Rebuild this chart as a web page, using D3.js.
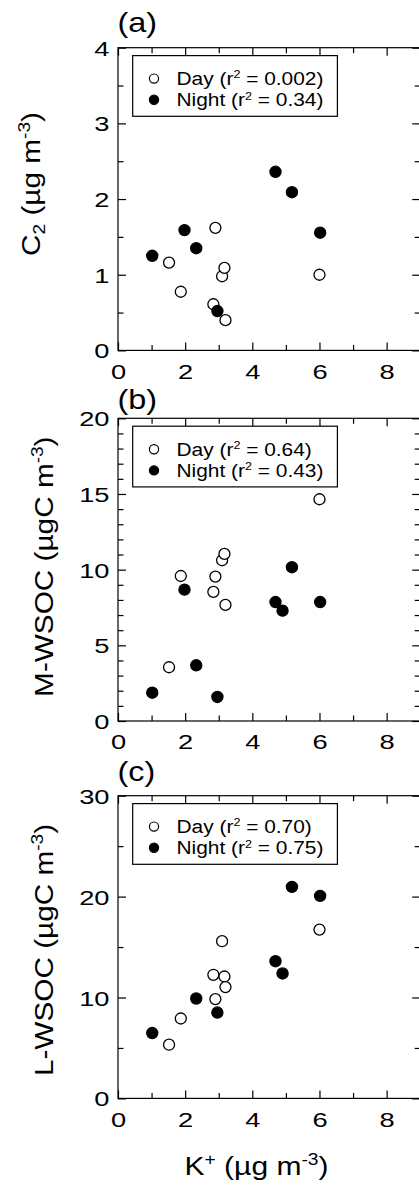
<!DOCTYPE html>
<html>
<head>
<meta charset="utf-8">
<script src="https://cdn.jsdelivr.net/npm/d3@7"></script>
<style>
  html, body { margin: 0; padding: 0; background: #fff; }
  svg { display: block; }
  text { white-space: pre; }
</style>
</head>
<body>
<svg id="chart" width="419" height="1189"></svg>
<script>
// K+ (µg m-3) of the daytime and nighttime samples
const kDay   = [1.52, 1.87, 2.84, 2.90, 3.10, 3.17, 3.20, 6.00];
const kNight = [1.02, 1.98, 2.33, 2.96, 4.69, 4.90, 5.18, 6.02];

// C2 (µg m-3); null where the sample has no value
const c2Day   = [1.16, 0.775, 0.61, 1.62, 0.98, 1.09, 0.40, 1.00];
const c2Night = [1.25, 1.59, 1.35, 0.52, 2.36, null, 2.09, 1.555];

// M-WSOC (µgC m-3)
const mwsocDay   = [3.55, 9.58, 8.53, 9.54, 10.62, 11.04, 7.67, 14.65];
const mwsocNight = [1.87, 8.68, 3.68, 1.59, 7.86, 7.29, 10.16, 7.86];

// L-WSOC (µgC m-3)
const lwsocDay   = [5.32, 7.92, 12.25, 9.84, 15.58, 12.08, 11.03, 16.73];
const lwsocNight = [6.48, null, 9.90, 8.51, 13.60, 12.38, 20.96, 20.07];

// coefficients of determination shown in each legend
const r2Day   = ["0.002", "0.64", "0.70"];
const r2Night = ["0.34", "0.43", "0.75"];

// axis extents and tick steps
const panelLetters = ["(a)", "(b)", "(c)"];
const yMaxes   = [4, 20, 30];
const yMajorStep = [1, 5, 10];
const yMinorStep = [0.5, 1, 5];
const xMajorTicks = [0, 2, 4, 6, 8];
const xMinorTicks = [1, 3, 5, 7];

const FONT = '"Liberation Sans", Arial, Helvetica, sans-serif';
const svg = d3.select("#chart");

const left = 118, unit = 33.58;
const x = d3.scaleLinear().domain([0, 9]).range([left, left + 9 * unit]);
const panelTops = [47.7, 418.3, 795.7];
const ph = 302.7;

// writes text made of normal / superscript / subscript pieces
function rich(sel, parts, size, supRaise = 0.42, supScale = 0.64) {
  let cur = 0;
  parts.forEach(p => {
    let off = 0, fs = size;
    if (p.k === "sup") { off = -size * supRaise; fs = size * supScale; }
    if (p.k === "sub") { off = size * 0.2; fs = size * 0.64; }
    const ts = sel.append("tspan").text(p.t).attr("font-size", fs);
    if (off - cur !== 0) ts.attr("dy", off - cur);
    cur = off;
  });
  return sel;
}

const yTitles = [
  [{t: "C"}, {t: "2", k: "sub"}, {t: " (µg m"}, {t: "-3", k: "sup"}, {t: ")"}],
  [{t: "M-WSOC (µgC m"}, {t: "-3", k: "sup"}, {t: ")"}],
  [{t: "L-WSOC (µgC m"}, {t: "-3", k: "sup"}, {t: ")"}]
];
const yTitleX = [40, 53.3, 53.3];
const yTitleCy = [184, 566.7, 950];
const letterBase = [32, 408.5, 780.7];

const panels = [
  {day: c2Day, night: c2Night},
  {day: mwsocDay, night: mwsocNight},
  {day: lwsocDay, night: lwsocNight}
];

function styleTicks(g) {
  g.select(".domain").remove();
  g.selectAll(".tick line").attr("stroke", "#000").attr("stroke-width", 1.2);
  g.attr("font-family", FONT).attr("font-size", 21);
}

panels.forEach((p, i) => {
  const top = panelTops[i], bottom = top + ph;
  const y = d3.scaleLinear().domain([0, yMaxes[i]]).range([bottom, top]);
  const yMajor = d3.range(0, yMaxes[i] + 1e-9, yMajorStep[i]);
  const yMinor = d3.range(0, yMaxes[i] + 1e-9, yMinorStep[i])
    .filter(v => Math.abs(v / yMajorStep[i] - Math.round(v / yMajorStep[i])) > 1e-6);
  const g = svg.append("g");

  // bottom axis with labels
  const gb = g.append("g").attr("transform", `translate(0,${bottom})`)
    .call(d3.axisBottom(x).tickValues(xMajorTicks).tickSize(-8).tickFormat(d3.format("d")));
  styleTicks(gb);
  gb.selectAll(".tick text").attr("y", 0).attr("dy", null).attr("fill", "#000")
    .attr("transform", "translate(0,28.2) scale(1.3,1)");
  const gbm = g.append("g").attr("transform", `translate(0,${bottom})`)
    .call(d3.axisBottom(x).tickValues(xMinorTicks).tickSize(-5.5).tickFormat(""));
  styleTicks(gbm);

  // top axis ticks
  const gt = g.append("g").attr("transform", `translate(0,${top})`)
    .call(d3.axisTop(x).tickValues(xMajorTicks).tickSize(-8).tickFormat(""));
  styleTicks(gt);
  const gtm = g.append("g").attr("transform", `translate(0,${top})`)
    .call(d3.axisTop(x).tickValues(xMinorTicks).tickSize(-5.5).tickFormat(""));
  styleTicks(gtm);

  // left axis with labels
  const gl = g.append("g").attr("transform", `translate(${left},0)`)
    .call(d3.axisLeft(y).tickValues(yMajor).tickSize(-8).tickFormat(d3.format("d")));
  styleTicks(gl);
  gl.selectAll(".tick text").attr("x", 0).attr("dy", "0.36em").attr("fill", "#000")
    .attr("transform", "translate(-8.5,0) scale(1.3,1)");
  const glm = g.append("g").attr("transform", `translate(${left},0)`)
    .call(d3.axisLeft(y).tickValues(yMinor).tickSize(-5.5).tickFormat(""));
  styleTicks(glm);

  // right axis ticks
  const gr = g.append("g").attr("transform", `translate(${x(9)},0)`)
    .call(d3.axisRight(y).tickValues(yMajor).tickSize(-8).tickFormat(""));
  styleTicks(gr);
  const grm = g.append("g").attr("transform", `translate(${x(9)},0)`)
    .call(d3.axisRight(y).tickValues(yMinor).tickSize(-5.5).tickFormat(""));
  styleTicks(grm);

  // frame
  g.append("rect").attr("x", x(0)).attr("y", top)
    .attr("width", x(9) - x(0)).attr("height", ph)
    .attr("fill", "none").attr("stroke", "#000").attr("stroke-width", 1.2);

  // panel letter
  g.append("text").text(panelLetters[i])
    .attr("font-family", FONT).attr("font-size", 27)
    .attr("transform", `translate(117.5,${letterBase[i]}) scale(1.2,1)`);

  // y-axis title
  rich(g.append("text")
    .attr("font-family", FONT).attr("text-anchor", "middle")
    .attr("transform", `translate(${yTitleX[i]},${yTitleCy[i]}) rotate(-90) scale(1.19,1)`),
    yTitles[i], 25);

  // legend
  const bx = 132.7, by = top + 7.9;
  g.append("rect").attr("x", bx).attr("y", by).attr("width", 204.7).attr("height", 60.7)
    .attr("fill", "#fff").attr("stroke", "#000").attr("stroke-width", 1.2);
  const rows = [
    {label: "Day", r2: r2Day[i], fill: "#fff", dy: 23, base: 29.6},
    {label: "Night", r2: r2Night[i], fill: "#000", dy: 44.2, base: 50.8}
  ];
  rows.forEach(r => {
    g.append("circle").attr("cx", 154).attr("cy", by + r.dy).attr("r", 4.6)
      .attr("fill", r.fill).attr("stroke", "#000").attr("stroke-width", 1.2);
    rich(g.append("text").attr("font-family", FONT)
      .attr("transform", `translate(176.5,${by + r.base}) scale(1.1,1)`),
      [{t: r.label + " (r"}, {t: "2", k: "sup"}, {t: " = " + r.r2 + ")"}], 19, 0.36, 0.6);
  });

  // data points: day (open) first, night (filled) on top
  const pts = (ks, vs) => ks.map((k, j) => ({k, v: vs[j]})).filter(d => d.v != null);
  g.append("g").selectAll("circle").data(pts(kDay, p.day)).join("circle")
    .attr("cx", d => x(d.k)).attr("cy", d => y(d.v)).attr("r", 5.5)
    .attr("fill", "#fff").attr("stroke", "#000").attr("stroke-width", 1.3);
  g.append("g").selectAll("circle").data(pts(kNight, p.night)).join("circle")
    .attr("cx", d => x(d.k)).attr("cy", d => y(d.v)).attr("r", 5.6)
    .attr("fill", "#000").attr("stroke", "#000").attr("stroke-width", 1.2);
});

// x-axis title under the bottom panel
rich(svg.append("text").attr("font-family", FONT).attr("text-anchor", "middle")
  .attr("transform", "translate(256.5,1175) scale(1.2,1)"),
  [{t: "K"}, {t: "+", k: "sup"}, {t: " (µg m"}, {t: "-3", k: "sup"}, {t: ")"}], 25);
</script>
</body>
</html>
